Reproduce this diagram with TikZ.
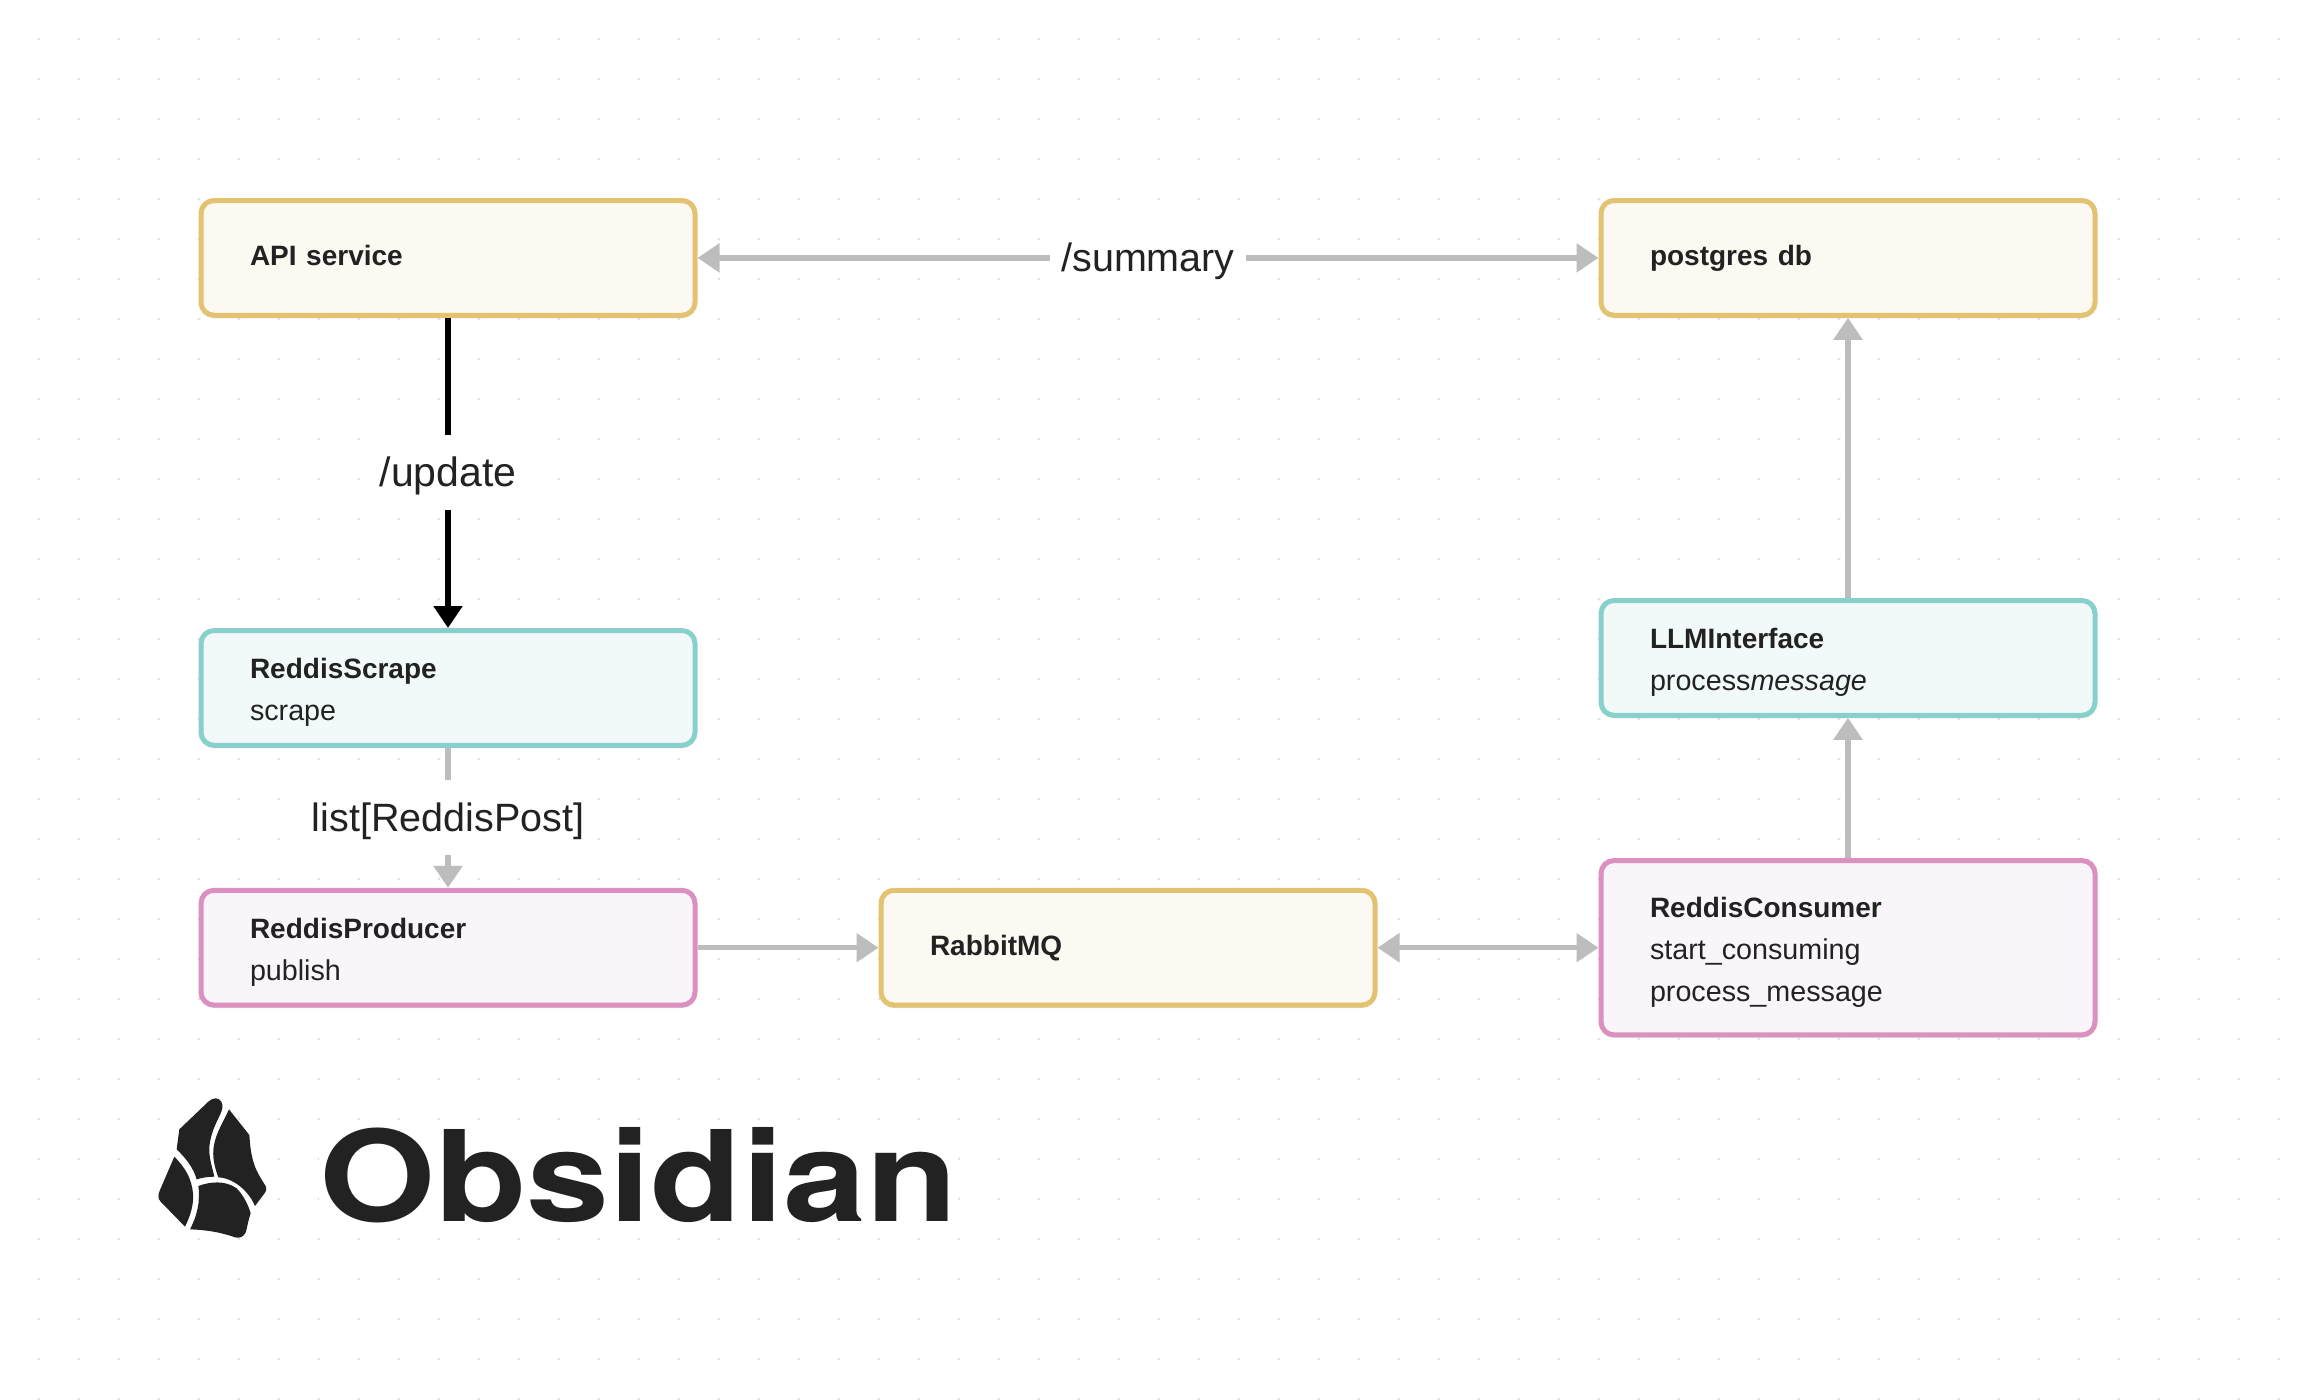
\documentclass[tikz,border=0pt]{standalone}
\usepackage{fontspec}
\usepackage{graphicx}
\setmainfont{Liberation Sans}
\newfontfamily\wordfont{TeX Gyre Heros}
\usetikzlibrary{arrows.meta,shadows}
\definecolor{inkc}{HTML}{222222}
\definecolor{dotc}{HTML}{E2E2E2}
\definecolor{linec}{HTML}{BDBDBD}
\definecolor{yelb}{HTML}{E3C371}
\definecolor{yelf}{HTML}{FBF9F2}
\definecolor{teab}{HTML}{88D0CC}
\definecolor{teaf}{HTML}{F2FAF9}
\definecolor{pinb}{HTML}{DB90C0}
\definecolor{pinf}{HTML}{FAF5FA}
\newcommand{\firstl}{\rule{0pt}{36pt}}
\newcommand{\midl}{\rule{0pt}{29.4pt}}
\newcommand{\lastl}{\rule[-12.6pt]{0pt}{12.6pt}}
\newcommand{\onel}{\rule{0pt}{27.6pt}\rule[-12.6pt]{0pt}{12.6pt}}
\newcommand{\bt}[1]{{\fontsize{28}{42}\selectfont\bfseries #1}}
\tikzset{
  box/.style={rectangle,rounded corners=13pt,line width=5pt,
    minimum width=494pt,text width=396pt,inner xsep=49pt,inner ysep=0pt,
    align=left,text=inkc,font=\fontsize{28.7}{42}\selectfont,
    drop shadow={shadow xshift=0pt,shadow yshift=-3pt,opacity=.10,fill=black}},
  yel/.style={box,draw=yelb,fill=yelf},
  tea/.style={box,draw=teab,fill=teaf},
  pin/.style={box,draw=pinb,fill=pinf},
  conn/.style={line width=5.4pt,draw=linec},
  head/.style={-{Triangle[length=22pt,width=28pt]}},
  both/.style={{Triangle[length=22pt,width=28pt]}-{Triangle[length=22pt,width=28pt]}},
  lbl/.style={fill=white,text=inkc,font=\fontsize{39.5}{44}\selectfont,
    inner ysep=0pt,inner xsep=11pt,text height=51.5pt,text depth=23.5pt},
  logo/.style={fill=inkc,draw=none}
}
\begin{document}
\begin{tikzpicture}[x=1pt,y=-1pt]
\useasboundingbox (0,0) rectangle (2300,1400);
\fill[white] (0,0) rectangle (2300,1400);
\foreach \gx in {-1,39,...,2319}
  \foreach \gy in {-1,39,...,1399}
    \fill[dotc] (\gx,\gy) circle[radius=1.6pt];

\node[yel,minimum height=114.8pt] (api) at (448,257.9) {\onel\bt{API service}};
\node[yel,minimum height=114.8pt] (pg) at (1848,257.9) {\onel\bt{postgres db}};
\node[tea,minimum height=114.8pt] (scrape) at (448,687.9) {\firstl\bt{ReddisScrape}\\scrape\lastl};
\node[tea,minimum height=114.8pt] (llm) at (1848,657.9) {\firstl\bt{LLMInterface}\\process\textit{message}\lastl};
\node[pin,minimum height=114.8pt] (prod) at (448,947.7) {\firstl\bt{ReddisProducer}\\publish\lastl};
\node[yel,minimum height=114.8pt] (mq) at (1128,947.7) {\onel\bt{RabbitMQ}};
\node[pin,minimum height=174.3pt] (cons) at (1848,947.7) {\firstl\bt{ReddisConsumer}\\\midl start\_consuming\\process\_message\lastl};

\draw[conn,both] (api.east) -- node[lbl] (lsum) {/summary} (pg.west);
\draw[line width=5.4pt,draw=black,head] (api.south) -- node[lbl,font=\fontsize{41}{44}\selectfont] (lupd) {/update} (scrape.north);
\draw[conn,head] (scrape.south) -- node[lbl] (llist) {list[ReddisPost]} (prod.north);
\draw[conn,head] (prod.east) -- (mq.west);
\draw[conn,both] (mq.east) -- (cons.west);
\draw[conn,head] (cons.north) -- (llm.south);
\draw[conn,head] (llm.north) -- (pg.south);

\begin{scope}[shift={(130,1080)},x=0.33333pt,y=-0.33333pt]
\fill[logo] (258,55) .. controls (272,56) and (280,70) .. (277,85)
  .. controls (272,110) and (245,140) .. (238,200)
  .. controls (236,235) and (248,265) .. (253,290)
  .. controls (235,290) and (215,293) .. (200,298)
  .. controls (190,262) and (165,232) .. (140,208)
  -- (148,148) -- (235,65) .. controls (242,58) and (250,55) .. (258,55) -- cycle;
\fill[logo] (297,88) -- (358,165) .. controls (360,190) and (362,225) .. (375,260)
  .. controls (385,285) and (398,303) .. (408,320)
  .. controls (411,328) and (408,332) .. (405,338)
  -- (375,378) .. controls (362,345) and (320,295) .. (265,292)
  .. controls (255,265) and (245,230) .. (252,195)
  .. controls (258,160) and (280,125) .. (297,88) -- cycle;
\fill[logo] (133,230) .. controls (165,262) and (185,295) .. (189,340)
  .. controls (192,375) and (180,410) .. (165,440)
  -- (92,365) .. controls (84,355) and (83,345) .. (90,330) -- cycle;
\fill[logo] (205,318) .. controls (240,305) and (285,300) .. (320,325)
  .. controls (340,345) and (355,375) .. (362,400)
  .. controls (355,420) and (352,440) .. (348,455)
  .. controls (342,470) and (330,476) .. (315,472)
  .. controls (270,456) and (230,450) .. (180,448)
  .. controls (200,410) and (212,365) .. (205,318) -- cycle;
\end{scope}

\node[fill=white,inner sep=0pt,anchor=base west,text=inkc] (word) at (319,1221.6)
  {\resizebox{638pt}{94pt}{\wordfont\bfseries Obsidian}};
\end{tikzpicture}
\end{document}
